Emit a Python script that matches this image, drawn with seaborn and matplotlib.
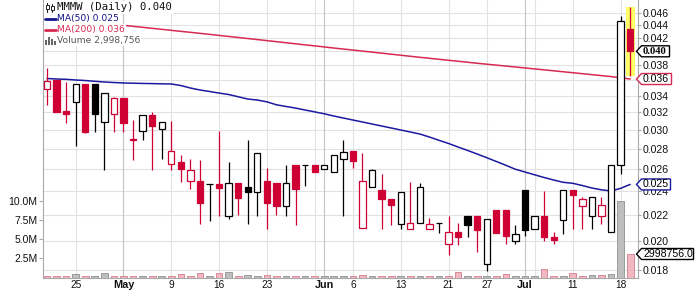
import numpy as np
import pandas as pd
import matplotlib
matplotlib.use("Agg")
import matplotlib.pyplot as plt
import seaborn as sns
from matplotlib.patches import Polygon, Rectangle
from matplotlib.lines import Line2D
import matplotlib.transforms as mtransforms
from matplotlib.ticker import FixedLocator, FixedFormatter, NullLocator

# ---------------- data ----------------
holidays = ["2022-05-30", "2022-06-20", "2022-07-04"]
dates = [d for d in pd.bdate_range("2022-04-20", "2022-07-19")
         if d.strftime("%Y-%m-%d") not in holidays]

opens = [0.0348, 0.0360, 0.0322, 0.0332, 0.0355, 0.0355, 0.0309, 0.0318, 0.0337, 0.0290,
         0.0299, 0.0317, 0.0301, 0.0265, 0.0267, 0.0249, 0.0249, 0.0246, 0.0246, 0.0219,
         0.0247, 0.0244, 0.0239, 0.0249, 0.0247, 0.0227, 0.0264, 0.0264, 0.0264, 0.0260,
         0.0257, 0.0270, 0.0278, 0.0210, 0.0244, 0.0241, 0.0233, 0.0213, 0.0209, 0.0214,
         0.0209, 0.0214, 0.0198, 0.0207, 0.0219, 0.0219, 0.0184, 0.0224, 0.0224, 0.0200,
         0.0241, 0.0209, 0.0219, 0.0203, 0.0216, 0.0241, 0.0227, 0.0219, 0.0219, 0.0207,
         0.0264, 0.0434]
highs = [0.0377, 0.0360, 0.0358, 0.0355, 0.0355, 0.0355, 0.0344, 0.0339, 0.0337, 0.0311,
         0.0317, 0.0320, 0.0309, 0.0310, 0.0274, 0.0270, 0.0269, 0.0246, 0.0299, 0.0267,
         0.0247, 0.0289, 0.0276, 0.0261, 0.0247, 0.0264, 0.0264, 0.0264, 0.0264, 0.0264,
         0.0274, 0.0289, 0.0278, 0.0276, 0.0260, 0.0256, 0.0233, 0.0239, 0.0248, 0.0247,
         0.0218, 0.0214, 0.0219, 0.0214, 0.0219, 0.0219, 0.0217, 0.0224, 0.0224, 0.0212,
         0.0241, 0.0219, 0.0240, 0.0207, 0.0241, 0.0241, 0.0235, 0.0235, 0.0235, 0.0264,
         0.0455, 0.0471]
lows = [0.0329, 0.0320, 0.0308, 0.0283, 0.0297, 0.0298, 0.0259, 0.0298, 0.0298, 0.0269,
        0.0289, 0.0259, 0.0270, 0.0259, 0.0248, 0.0242, 0.0213, 0.0215, 0.0219, 0.0217,
        0.0220, 0.0213, 0.0219, 0.0209, 0.0220, 0.0219, 0.0212, 0.0245, 0.0257, 0.0260,
        0.0257, 0.0219, 0.0261, 0.0210, 0.0244, 0.0209, 0.0212, 0.0209, 0.0209, 0.0214,
        0.0209, 0.0206, 0.0190, 0.0197, 0.0203, 0.0192, 0.0179, 0.0206, 0.0198, 0.0198,
        0.0204, 0.0209, 0.0200, 0.0198, 0.0205, 0.0209, 0.0209, 0.0209, 0.0213, 0.0207,
        0.0256, 0.0366]
closes = [0.0359, 0.0321, 0.0318, 0.0355, 0.0298, 0.0318, 0.0344, 0.0337, 0.0308, 0.0289,
          0.0317, 0.0304, 0.0309, 0.0278, 0.0260, 0.0259, 0.0230, 0.0246, 0.0243, 0.0247,
          0.0234, 0.0239, 0.0276, 0.0230, 0.0227, 0.0247, 0.0242, 0.0264, 0.0257, 0.0264,
          0.0274, 0.0277, 0.0268, 0.0249, 0.0259, 0.0233, 0.0228, 0.0239, 0.0214, 0.0244,
          0.0213, 0.0214, 0.0207, 0.0203, 0.0212, 0.0208, 0.0217, 0.0206, 0.0204, 0.0205,
          0.0208, 0.0219, 0.0203, 0.0201, 0.0241, 0.0237, 0.0233, 0.0235, 0.0228, 0.0264,
          0.0446, 0.0400]
prev_close = 0.0365
volumes = [50000, 50000, 100000, 370000, 50000, 100000, 540000, 50000, 50000, 100000,
           40000, 100000, 40000, 50000, 370000, 100000, 540000, 100000, 540000, 650000,
           100000, 240000, 100000, 240000, 40000, 40000, 100000, 40000, 40000, 40000,
           40000, 100000, 40000, 240000, 40000, 100000, 70000, 40000, 40000, 40000,
           40000, 40000, 100000, 670000, 40000, 100000, 100000, 40000, 370000, 40000,
           50000, 50000, 1070000, 50000, 50000, 450000, 100000, 240000, 240000, 370000,
           9930000, 2998756]
ma50 = [0.03622, 0.03615, 0.03611, 0.03602, 0.03595, 0.03585, 0.03576, 0.03569, 0.03563, 0.03560,
        0.03557, 0.03555, 0.03552, 0.03550, 0.03530, 0.03498, 0.03473, 0.03454, 0.03434, 0.03416,
        0.03388, 0.03360, 0.03348, 0.03326, 0.03290, 0.03270, 0.03251, 0.03228, 0.03206, 0.03184,
        0.03158, 0.03135, 0.03112, 0.03090, 0.03067, 0.03045, 0.03023, 0.03001, 0.02979, 0.02957,
        0.02925, 0.02890, 0.02857, 0.02820, 0.02785, 0.02749, 0.02712, 0.02675, 0.02638, 0.02600,
        0.02574, 0.02548, 0.02523, 0.02500, 0.02479, 0.02470, 0.02450, 0.02428, 0.02412, 0.02402,
        0.02425, 0.02460]
ma200 = [0.04530, 0.04514, 0.04497, 0.04480, 0.04463, 0.04446, 0.04430, 0.04414, 0.04398, 0.04382,
         0.04366, 0.04350, 0.04334, 0.04318, 0.04302, 0.04287, 0.04271, 0.04255, 0.04239, 0.04223,
         0.04207, 0.04191, 0.04175, 0.04159, 0.04143, 0.04127, 0.04111, 0.04095, 0.04080, 0.04064,
         0.04048, 0.04033, 0.04018, 0.04003, 0.03988, 0.03973, 0.03958, 0.03943, 0.03928, 0.03913,
         0.03899, 0.03885, 0.03871, 0.03857, 0.03843, 0.03829, 0.03816, 0.03803, 0.03790, 0.03777,
         0.03764, 0.03751, 0.03738, 0.03725, 0.03712, 0.03699, 0.03686, 0.03673, 0.03660, 0.03647,
         0.03632, 0.03615]

price_ticks = [0.018, 0.020, 0.022, 0.024, 0.026, 0.028, 0.030, 0.032,
               0.034, 0.036, 0.038, 0.040, 0.042, 0.044, 0.046]
vol_ticks = [2.5e6, 5.0e6, 7.5e6, 10.0e6]
vol_tick_labels = ["2.5M", "5.0M", "7.5M", "10.0M"]
xtick_dates = ["2022-04-25", "2022-05-02", "2022-05-09", "2022-05-16", "2022-05-23",
               "2022-06-01", "2022-06-06", "2022-06-13", "2022-06-21", "2022-06-27",
               "2022-07-01", "2022-07-11", "2022-07-18"]
xtick_labels = ["25", "May", "9", "16", "23", "Jun", "6", "13", "21", "27", "Jul", "11", "18"]
week_lines = ["2022-04-25", "2022-05-02", "2022-05-09", "2022-05-16", "2022-05-23",
              "2022-05-31", "2022-06-06", "2022-06-13", "2022-06-21", "2022-06-27",
              "2022-07-05", "2022-07-11", "2022-07-18"]
month_lines = ["2022-05-02", "2022-06-01", "2022-07-01"]

# ---------------- style ----------------
sns.set_style("white")
plt.rcParams["font.family"] = ["Liberation Sans", "DejaVu Sans"]

RED = "#CF0034"
BLACK = "#000000"
BLUE = "#1A1AA0"
MARED = "#D62A52"
GRID = "#E2E2E2"
MGRID = "#C4C4C4"
SPINE = "#A8A8A8"

W, H = 697, 291
fig = plt.figure(figsize=(W / 100, H / 100), dpi=100)
L, R, T, B = 43, 638, 0, 278
ax = fig.add_axes([L / W, (H - B) / H, (R - L) / W, (B - T) / H])

df = pd.DataFrame({"date": dates, "open": opens, "high": highs, "low": lows,
                   "close": closes, "volume": volumes, "ma50": ma50, "ma200": ma200})
df["i"] = np.arange(len(df))
date_pos = {d.strftime("%Y-%m-%d"): i for i, d in zip(df["i"], df["date"])}
prevs = [prev_close] + closes[:-1]
colors = [RED if c < p else BLACK for c, p in zip(closes, prevs)]
faces = [col if c < o else "white" for col, c, o in zip(colors, closes, opens)]
vcolors = ["#F1B8C2" if col == RED else "#BEBEBE" for col in colors]
vedges = ["#D78A98" if col == RED else "#9A9A9A" for col in colors]

ax.set_yscale("log")

# grid
for t in price_ticks:
    ax.axhline(t, color=GRID, lw=0.8, zorder=0)
for d in week_lines:
    ax.axvline(date_pos[d], color=GRID, lw=0.8, zorder=0)
for d in month_lines:
    ax.axvline(date_pos[d], color=MGRID, lw=0.8, zorder=0)

# highlight last candle
last = len(df) - 1
ax.bar(last, highs[-1] - lows[-1], bottom=lows[-1], width=0.95,
       color="#FFFF66", edgecolor="none", zorder=1)

# moving averages
sns.lineplot(x=df["i"], y=df["ma200"], ax=ax, color=MARED, lw=1.1, legend=False, zorder=2)
sns.lineplot(x=df["i"], y=df["ma50"], ax=ax, color=BLUE, lw=1.1, legend=False, zorder=2)

# candles
ax.vlines(df["i"], df["low"], df["high"], colors=colors, lw=0.9, zorder=3)
body_lo = np.minimum(df["open"], df["close"])
body_h = np.abs(df["close"] - df["open"])
ax.bar(df["i"], body_h, bottom=body_lo, width=0.66, color=faces,
       edgecolor=colors, linewidth=0.9, zorder=4)

ax.set_xlim(-0.42, 61.82)
ax.set_ylim(0.01748, 0.04824)
ax.set_xlabel("")
ax.set_ylabel("")

# volume axis
axv = ax.twinx()
vmin, vmax = -0.16e6, 36.42e6
axv.bar(df["i"], df["volume"] - vmin, bottom=vmin, width=0.7, color=vcolors,
        edgecolor=vedges, linewidth=0.7, zorder=2)
axv.set_ylim(vmin, vmax)
axv.set_xlim(-0.42, 61.82)
axv.set_ylabel("")
for s in axv.spines.values():
    s.set_visible(False)
axv.yaxis.tick_left()
axv.yaxis.set_major_locator(FixedLocator(vol_ticks))
axv.yaxis.set_major_formatter(FixedFormatter(vol_tick_labels))
axv.tick_params(axis="y", which="major", left=True, right=False, length=3, width=0.8,
                color=SPINE, pad=1, labelsize=7.5, labelcolor="#111111")

# price axis (labels hidden under the value tags are left blank)
covered = {f"{closes[-1]:.3f}", f"{ma200[-1]:.3f}"}
price_labels = [("" if f"{t:.3f}" in covered else f"{t:.3f}") for t in price_ticks]
ax.yaxis.tick_right()
ax.yaxis.set_major_locator(FixedLocator(price_ticks))
ax.yaxis.set_major_formatter(FixedFormatter(price_labels))
ax.yaxis.set_minor_locator(NullLocator())
ax.tick_params(axis="y", which="major", left=False, right=True, labelleft=False,
               labelright=True, length=2, width=0.8, color=SPINE, pad=1.5,
               labelsize=7.6, labelcolor="#111111")

ax.xaxis.remove_overlapping_locs = False
ax.set_xticks([date_pos[d] for d in xtick_dates])
ax.set_xticklabels(xtick_labels)
ax.set_xticks(df["i"], minor=True)
ax.tick_params(axis="x", which="minor", length=3, width=0.8, color=SPINE, direction="out")
ax.tick_params(axis="x", which="major", length=0, pad=1.2, labelsize=7.3,
               labelcolor="#111111")
for lab in ax.get_xticklabels():
    if lab.get_text() in ("May", "Jun", "Jul"):
        lab.set_fontweight("bold")
        lab.set_fontsize(7.8)

ax.spines["top"].set_visible(False)
for k in ("left", "bottom", "right"):
    ax.spines[k].set_color(SPINE)
    ax.spines[k].set_linewidth(0.8)
ax.set_facecolor("white")

# ---------------- value tags on right axis ----------------
ident = mtransforms.IdentityTransform()


def tag(axes, value, text, edge, w, bold=False, family=None, h=11):
    _, dy = axes.transData.transform((0, value))
    x0, xb = 636.5, 641.5
    verts = [(x0, dy), (xb, dy + h / 2), (xb + w, dy + h / 2),
             (xb + w, dy - h / 2), (xb, dy - h / 2)]
    fig.add_artist(Polygon(verts, closed=True, transform=ident, facecolor="white",
                           edgecolor=edge, lw=1.0, zorder=10))
    kw = dict(va="center", ha="left", fontsize=7.6, color="#000000", zorder=11)
    if bold:
        kw["fontweight"] = "bold"
    if family:
        kw["family"] = family
    fig.text((xb + 1.5) / W, dy / H, text, **kw)


tag(ax, closes[-1], f"{closes[-1]:.3f}", "#000000", 28, bold=True,
    family=["Liberation Serif", "DejaVu Serif"])
tag(ax, ma200[-1], f"{ma200[-1]:.3f}", MARED, 30)
tag(ax, ma50[-1], f"{ma50[-1]:.3f}", BLUE, 29)
tag(axv, volumes[-1], f"{float(volumes[-1]):.1f}", "#000000", 52)

# ---------------- legend (top-left) ----------------
def fy(y):
    return 1 - y / H


fig.add_artist(Rectangle((44, H - 45), 14, 44, transform=ident, facecolor="white",
                         edgecolor="none", zorder=8))
bb = dict(boxstyle="square,pad=0.12", facecolor="white", edgecolor="none")
fig.text(57 / W, fy(7.5), f"MMMW (Daily) {closes[-1]:.3f}", fontsize=7.7,
         family=["DejaVu Sans Mono"], va="center", ha="left", color="#111111",
         bbox=bb, zorder=9)
fig.text(57 / W, fy(18.5), f"MA(50) {ma50[-1]:.3f}", fontsize=6.6,
         family=["DejaVu Sans"], va="center", ha="left", color="#14148C", bbox=bb, zorder=9)
fig.text(57 / W, fy(29.5), f"MA(200) {ma200[-1]:.3f}", fontsize=6.6,
         family=["DejaVu Sans"], va="center", ha="left", color=MARED, bbox=bb, zorder=9)
fig.text(57 / W, fy(40.5), f"Volume {volumes[-1]:,}", fontsize=6.6,
         family=["DejaVu Sans"], va="center", ha="left", color="#555555", bbox=bb, zorder=9)

# legend icons
for (x0, ya, yb, r0, r1) in [(47, 3, 12, 5, 9), (52, 4, 12, 6, 10)]:
    fig.add_artist(Line2D([x0, x0], [H - ya, H - yb], transform=ident, color="#222222",
                          lw=0.8, zorder=10))
    fig.add_artist(Rectangle((x0 - 1.5, H - r1), 3, r1 - r0, transform=ident,
                             facecolor="white", edgecolor="#222222", lw=0.7, zorder=10))
fig.add_artist(Line2D([45, 56], [H - 18.5, H - 18.5], transform=ident, color="#14148C",
                      lw=2.0, zorder=10))
fig.add_artist(Line2D([45, 56], [H - 29.5, H - 29.5], transform=ident, color=MARED,
                      lw=2.0, zorder=10))
for (bx, bh) in [(45, 5), (48, 8), (51, 6), (54, 4)]:
    fig.add_artist(Rectangle((bx, H - 45), 2, bh, transform=ident, facecolor="#666666",
                             edgecolor="none", zorder=10))

fig.savefig("out.png", dpi=100)
